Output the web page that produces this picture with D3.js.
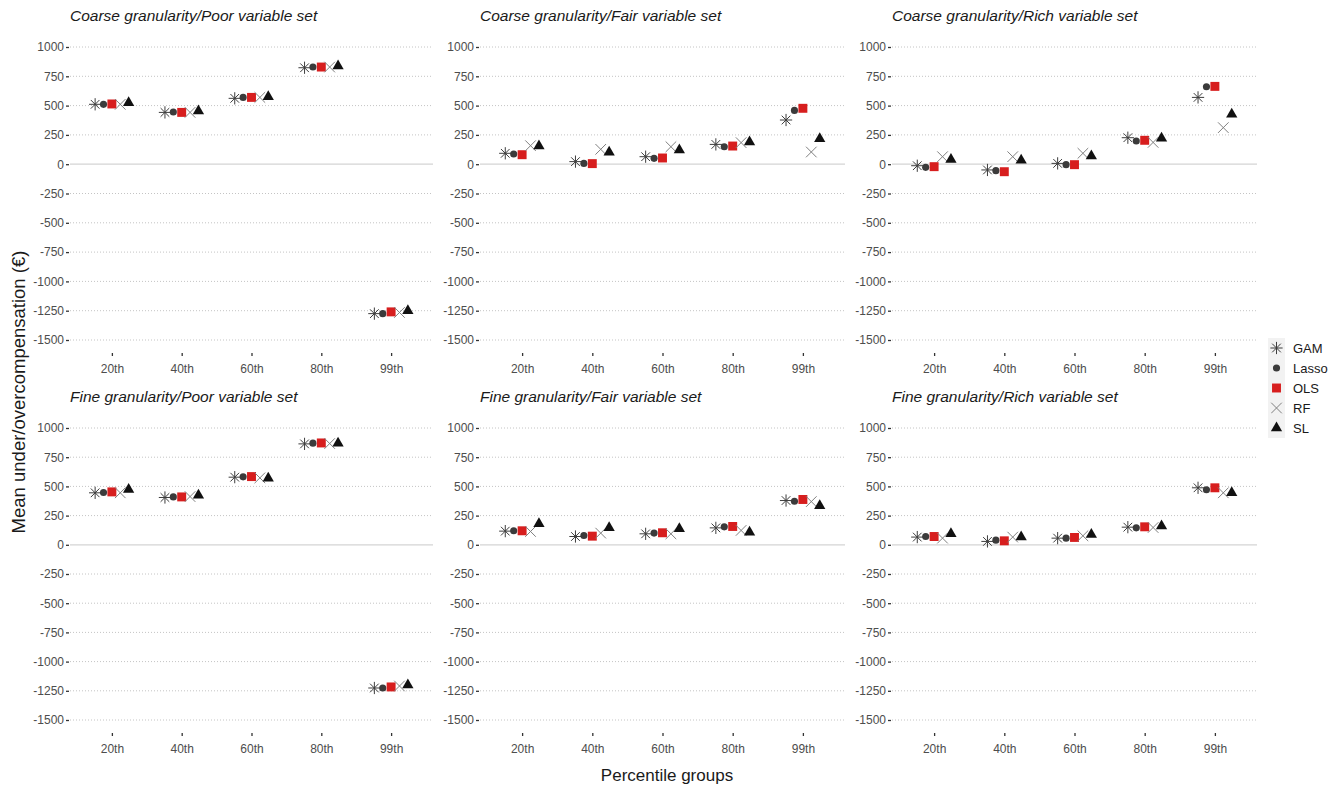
<!DOCTYPE html>
<html>
<head>
<meta charset="utf-8">
<script src="https://cdn.jsdelivr.net/npm/d3@7"></script>
<style>
  body { margin: 0; background: #fff; }
  text { font-family: "Liberation Sans", Arial, sans-serif; }
</style>
</head>
<body>
<div id="vis"></div>
<script>
// percentile groups and model names
var groups = ["20th", "40th", "60th", "80th", "99th"];
var models = ["GAM", "Lasso", "OLS", "RF", "SL"];
var yTicks = [1000, 750, 500, 250, 0, -250, -500, -750, -1000, -1250, -1500];

var panelTitles = [
  "Coarse granularity/Poor variable set",
  "Coarse granularity/Fair variable set",
  "Coarse granularity/Rich variable set",
  "Fine granularity/Poor variable set",
  "Fine granularity/Fair variable set",
  "Fine granularity/Rich variable set"
];

// values per panel: one row per model (GAM, Lasso, OLS, RF, SL), one column per group
var coarsePoor = [
  [511, 442, 562, 823, -1275],
  [511, 445, 570, 829, -1275],
  [514, 442, 570, 829, -1260],
  [511, 442, 570, 829, -1265],
  [525, 454, 576, 838, -1250]
];
var coarseFair = [
  [93, 22, 64, 169, 377],
  [87, 7, 50, 149, 459],
  [81, 5, 53, 155, 477],
  [158, 127, 149, 184, 104],
  [155, 101, 121, 189, 218]
];
var coarseRich = [
  [-13, -49, 7, 226, 570],
  [-27, -55, -4, 198, 661],
  [-21, -64, -4, 204, 664],
  [64, 64, 93, 186, 312],
  [41, 33, 70, 221, 426]
];
var finePoor = [
  [445, 405, 579, 864, -1226],
  [448, 410, 582, 870, -1226],
  [453, 410, 584, 872, -1217],
  [445, 413, 573, 867, -1209],
  [473, 425, 570, 870, -1200]
];
var fineFair = [
  [117, 71, 94, 145, 379],
  [120, 80, 100, 154, 373],
  [120, 74, 103, 157, 388],
  [114, 100, 94, 123, 370],
  [180, 145, 137, 108, 334]
];
var fineRich = [
  [66, 29, 57, 151, 488],
  [71, 40, 57, 145, 471],
  [71, 34, 63, 154, 488],
  [57, 66, 77, 148, 445],
  [94, 66, 88, 160, 445]
];
var panelValues = [coarsePoor, coarseFair, coarseRich, finePoor, fineFair, fineRich];

var W = 1338, H = 787;
var colX = [[70, 433], [480, 845], [892, 1257]];
var rowY = [[340, 47], [720, 428]];

// 8-armed asterisk like ggplot shape 8
var symbolStar = {
  draw: function (ctx, size) {
    var r = Math.sqrt(size) / 2, d = r * Math.SQRT1_2;
    ctx.moveTo(-r, 0); ctx.lineTo(r, 0);
    ctx.moveTo(0, -r); ctx.lineTo(0, r);
    ctx.moveTo(-d, -d); ctx.lineTo(d, d);
    ctx.moveTo(-d, d); ctx.lineTo(d, -d);
  }
};

var style = {
  GAM:   {type: symbolStar, size: 150, fill: "none", stroke: "#3d3d3d", sw: 1},
  Lasso: {type: d3.symbolCircle, size: 40, fill: "#3b3b3b", stroke: "none", sw: 0},
  OLS:   {type: d3.symbolSquare, size: 80, fill: "#d71e1e", stroke: "none", sw: 0},
  RF:    {type: d3.symbolTimes, size: 75, fill: "none", stroke: "#808080", sw: 1},
  SL:    {type: d3.symbolTriangle, size: 55, fill: "#111", stroke: "none", sw: 0}
};

var fmt = function (d) { return String(d); };

var svg = d3.select("#vis").append("svg")
  .attr("width", W)
  .attr("height", H);

panelValues.forEach(function (vals, p) {
  var col = p % 3, row = Math.floor(p / 3);
  var x0 = colX[col][0], x1 = colX[col][1];
  var step = (x1 - x0) / (groups.length - 1 + 1.2);

  var x = d3.scalePoint()
    .domain(groups)
    .range([x0 + 0.6 * step, x1 - 0.6 * step]);

  var dodge = d3.scalePoint()
    .domain(models)
    .range([-0.24 * step, 0.24 * step]);

  var y = d3.scaleLinear()
    .domain([-1500, 1000])
    .range(rowY[row]);

  var g = svg.append("g");

  // grid
  g.selectAll("line.grid")
    .data(yTicks)
    .enter().append("line")
      .attr("x1", x0).attr("x2", x1)
      .attr("y1", function (d) { return y(d); })
      .attr("y2", function (d) { return y(d); })
      .attr("stroke", function (d) { return d === 0 ? "#d4d4d4" : "#c4c4c4"; })
      .attr("stroke-width", function (d) { return d === 0 ? 1.2 : 1; })
      .attr("stroke-dasharray", function (d) { return d === 0 ? null : "1,2"; });

  // y axis
  var yAxis = d3.axisLeft(y).tickValues(yTicks).tickFormat(fmt).tickSize(3).tickPadding(2);
  var yg = g.append("g")
    .attr("transform", "translate(" + (x0 - 1) + ",0)")
    .call(yAxis);
  yg.select(".domain").remove();
  yg.selectAll(".tick line").attr("stroke", "#333").attr("stroke-width", 1.3);
  yg.selectAll(".tick text")
    .attr("fill", "#4d4d4d")
    .style("font-size", "12px")
    .style("font-family", "Liberation Sans, Arial, sans-serif");

  // x axis
  var xAxis = d3.axisBottom(x).tickSize(3).tickPadding(8);
  var xg = g.append("g")
    .attr("transform", "translate(0," + (y(-1500) + 13) + ")")
    .call(xAxis);
  xg.select(".domain").remove();
  xg.selectAll(".tick line").attr("stroke", "#333").attr("stroke-width", 1.3);
  xg.selectAll(".tick text")
    .attr("fill", "#4d4d4d")
    .style("font-size", "12px")
    .style("font-family", "Liberation Sans, Arial, sans-serif");

  // title
  g.append("text")
    .attr("x", x0)
    .attr("y", y(1000) - 26)
    .attr("fill", "#1a1a1a")
    .style("font-size", "15.5px")
    .style("font-style", "italic")
    .text(panelTitles[p]);

  // points
  models.forEach(function (m, i) {
    var s = style[m];
    g.selectAll("path.m" + i)
      .data(vals[i])
      .enter().append("path")
        .attr("d", d3.symbol().type(s.type).size(s.size))
        .attr("transform", function (d, j) {
          return "translate(" + (x(groups[j]) + dodge(m)) + "," + y(d) + ")";
        })
        .attr("fill", s.fill)
        .attr("stroke", s.stroke)
        .attr("stroke-width", s.sw);
  });
});

// axis titles
svg.append("text")
  .attr("x", 667)
  .attr("y", 781)
  .attr("text-anchor", "middle")
  .attr("fill", "#1a1a1a")
  .style("font-size", "17px")
  .text("Percentile groups");

svg.append("text")
  .attr("transform", "translate(25,392) rotate(-90)")
  .attr("text-anchor", "middle")
  .attr("fill", "#1a1a1a")
  .style("font-size", "18.5px")
  .text("Mean under/overcompensation (\u20AC)");

// legend
var legend = svg.append("g").attr("transform", "translate(1268,338)");
models.forEach(function (m, i) {
  var s = style[m];
  var row = legend.append("g").attr("transform", "translate(0," + (i * 20) + ")");
  row.append("rect")
    .attr("width", 17).attr("height", 20)
    .attr("fill", "#f2f2f2");
  row.append("path")
    .attr("d", d3.symbol().type(s.type).size(s.size))
    .attr("transform", "translate(8.5,10)")
    .attr("fill", s.fill)
    .attr("stroke", s.stroke)
    .attr("stroke-width", s.sw);
  row.append("text")
    .attr("x", 25)
    .attr("y", 10)
    .attr("dy", "0.35em")
    .attr("fill", "#1a1a1a")
    .style("font-size", "13px")
    .text(m);
});
</script>
</body>
</html>
